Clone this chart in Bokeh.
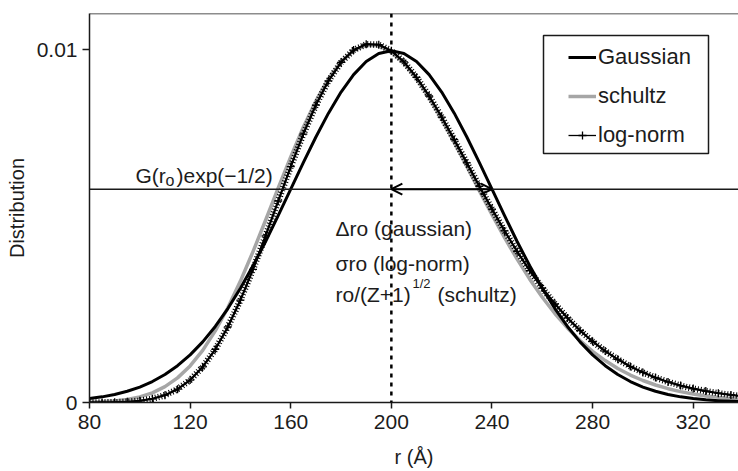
import numpy as np
from bokeh.plotting import figure
from bokeh.models import (Range1d, FixedTicker, NumeralTickFormatter, Span, Arrow, OpenHead,
                          Label, Legend, LegendItem, BoxAnnotation)
from bokeh.embed import file_html
from bokeh.resources import INLINE

# ---- data ----
r = [80, 85, 90, 95, 100, 105, 110, 115, 120, 125, 130, 135, 140, 145, 150, 155, 160,
     165, 170, 175, 180, 185, 190, 195, 200, 205, 210, 215, 220, 225, 230, 235, 240,
     245, 250, 255, 260, 265, 270, 275, 280, 285, 290, 295, 300, 305, 310, 315, 320,
     325, 330, 335, 340]

gaussian = [0.000111, 0.000160, 0.000227, 0.000318, 0.000438, 0.000594, 0.000794, 0.001043,
            0.001350, 0.001720, 0.002157, 0.002664, 0.003238, 0.003876, 0.004566, 0.005297,
            0.006050, 0.006802, 0.007529, 0.008204, 0.008802, 0.009297, 0.009667, 0.009896,
            0.009974, 0.009896, 0.009667, 0.009297, 0.008802, 0.008204, 0.007529, 0.006802,
            0.006050, 0.005297, 0.004566, 0.003876, 0.003238, 0.002664, 0.002157, 0.001720,
            0.001350, 0.001043, 0.000794, 0.000594, 0.000438, 0.000318, 0.000227, 0.000160,
            0.000111, 0.0000756, 0.0000507, 0.0000335, 0.0000218]

schultz = [0.0000091, 0.0000210, 0.0000443, 0.0000866, 0.000159, 0.000274, 0.000449, 0.000698,
           0.001038, 0.001479, 0.002030, 0.002687, 0.003443, 0.004279, 0.005167, 0.006075,
           0.006967, 0.007805, 0.008551, 0.009179, 0.009660, 0.009980, 0.010131, 0.010115,
           0.009940, 0.009624, 0.009185, 0.008648, 0.008037, 0.007377, 0.006692, 0.006002,
           0.005325, 0.004675, 0.004064, 0.003498, 0.002984, 0.002523, 0.002115, 0.001759,
           0.001450, 0.001188, 0.000965, 0.000778, 0.000624, 0.000496, 0.000392, 0.000308,
           0.000241, 0.000187, 0.000145, 0.000111, 0.0000848]

lognorm = [0.0000007, 0.0000025, 0.0000077, 0.0000206, 0.0000492, 0.000106, 0.000208, 0.000377,
           0.000637, 0.001009, 0.001508, 0.002143, 0.002905, 0.003777, 0.004726, 0.005713,
           0.006690, 0.007612, 0.008434, 0.009121, 0.009646, 0.009993, 0.010158, 0.010147,
           0.009974, 0.009657, 0.009220, 0.008691, 0.008094, 0.007454, 0.006794, 0.006132,
           0.005485, 0.004866, 0.004282, 0.003741, 0.003245, 0.002797, 0.002397, 0.002042,
           0.001730, 0.001459, 0.001225, 0.001023, 0.000852, 0.000706, 0.000583, 0.000480,
           0.000394, 0.000323, 0.000263, 0.000214, 0.000174]

x_ticks = [80, 120, 160, 200, 240, 280, 320]
y_ticks = [0, 0.01]
r0 = 200          # centre of the distribution
delta_r = 40      # width shown by the arrow
level = max(gaussian) * np.exp(-0.5)   # G(ro)exp(-1/2)

FONT = "Liberation Sans"
TXT = "#1c1c1c"

# frame geometry (px)
FL, FT, FB = 89, 13, 402

p = figure(width=738, height=471, output_backend="svg", toolbar_location=None,
           x_range=Range1d(80, 338), y_range=Range1d(0, 0.01103),
           min_border_left=FL, min_border_right=0, min_border_top=FT,
           min_border_bottom=471 - FB)
p.outline_line_color = None
p.xgrid.grid_line_color = None
p.ygrid.grid_line_color = None
p.background_fill_color = "white"
p.border_fill_color = "white"

for ax in (p.xaxis[0], p.yaxis[0]):
    ax.axis_line_color = "#1a1a1a"
    ax.axis_line_width = 1.5
    ax.major_tick_line_color = "#1a1a1a"
    ax.major_tick_line_width = 1.5
    ax.major_tick_in = 0
    ax.minor_tick_line_color = None
    ax.major_label_text_font = FONT
    ax.major_label_text_font_size = "21px"
    ax.major_label_text_color = TXT
    ax.axis_label_text_font = FONT
    ax.axis_label_text_font_size = "20px"
    ax.axis_label_text_font_style = "normal"
    ax.axis_label_text_color = TXT

xa = p.xaxis[0]
xa.ticker = FixedTicker(ticks=x_ticks)
xa.major_tick_out = 6
xa.major_label_standoff = 6
xa.axis_label = "r (Å)"
xa.axis_label_standoff = 14

ya = p.yaxis[0]
ya.ticker = FixedTicker(ticks=y_ticks)
ya.formatter = NumeralTickFormatter(format="0.[00]")
ya.major_tick_out = 7
ya.major_label_standoff = 5
ya.axis_label = "Distribution"
ya.axis_label_standoff = 6

# reference lines
p.add_layout(Span(location=p.y_range.end, dimension="width", line_color="#1a1a1a", line_width=1.5))
p.add_layout(Span(location=level, dimension="width", line_color="#1a1a1a", line_width=1.5))
p.add_layout(Span(location=r0, dimension="height", line_color="black", line_width=2.5,
                  line_dash="4 5"))

# curves
s_line = p.line(r, schultz, line_color="#a6a6a6", line_width=3.5, line_join="round")
g_line = p.line(r, gaussian, line_color="black", line_width=3, line_join="round")
ln_thin = p.line(r, lognorm, line_color="black", line_width=1.3)
# dense "+" texture of the log-norm curve
p.line(r, lognorm, line_color="black", line_width=2.2, line_join="round")
p.line(r, lognorm, line_color="black", line_width=6.5, line_dash="1 2", line_cap="butt")
ln_mark = p.scatter(r, lognorm, marker="cross", size=8, line_color="black", line_width=1.3)

# arrow
p.add_layout(Arrow(x_start=r0, y_start=level, x_end=r0 + delta_r, y_end=level,
                   line_width=2, line_color="black",
                   start=OpenHead(size=11, line_width=2, line_color="black"),
                   end=OpenHead(size=11, line_width=2, line_color="black")))

# texts
def lab(text, sx, sy, size=21):
    p.add_layout(Label(x=sx - FL, y=FB - sy, x_units="screen", y_units="screen", text=text,
                       text_font=FONT, text_font_size=f"{size}px", text_color=TXT,
                       text_baseline="alphabetic", text_align="left"))

lab("G(r", 135, 175)
lab("o", 165, 180, 16)
lab(")exp(\u22121/2)", 176, 175)
lab("\u0394ro (gaussian)", 335, 228)
lab("\u03c3ro (log-norm)", 335, 263)
lab("ro/(Z+1)", 335, 294)
lab("1/2", 412, 283, 13)
lab("(schultz)", 437, 294)

# legend
legend = Legend(items=[LegendItem(label="Gaussian", renderers=[g_line]),
                       LegendItem(label="schultz", renderers=[s_line]),
                       LegendItem(label="log-norm", renderers=[ln_thin, ln_mark])],
                location=(479, FB - 148), orientation="vertical",
                border_line_color=None, background_fill_alpha=0,
                padding=10, spacing=13, glyph_width=28, glyph_height=20,
                label_height=20, label_standoff=2, margin=0,
                label_text_font=FONT, label_text_font_size="22px", label_text_color=TXT)
p.add_layout(legend)
p.add_layout(BoxAnnotation(left=543 - FL, right=708 - FL, top=FB - 35, bottom=FB - 153,
                           left_units="screen", right_units="screen",
                           top_units="screen", bottom_units="screen",
                           fill_color=None, line_color="#1a1a1a", line_alpha=1,
                           line_width=1.5))

open("out.html", "w").write(file_html(p, INLINE))
